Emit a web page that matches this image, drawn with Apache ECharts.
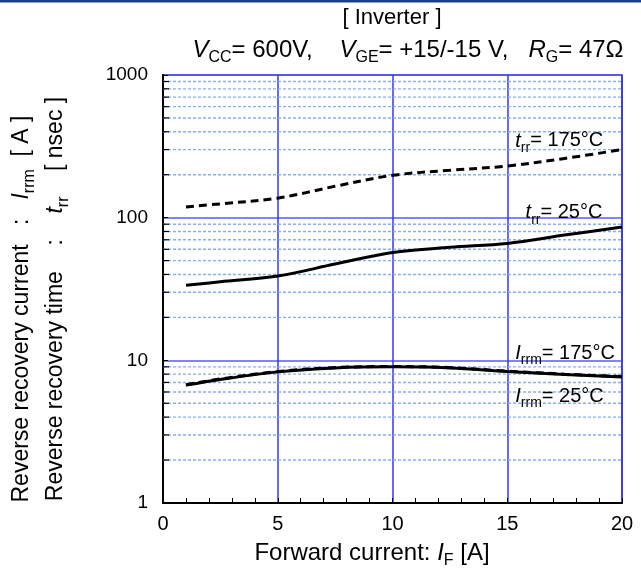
<!DOCTYPE html>
<html>
<head>
<meta charset="utf-8">
<script src="https://cdn.jsdelivr.net/npm/echarts@6/dist/echarts.min.js"></script>
<style>
  html, body { margin: 0; padding: 0; background: #fff; }
  #chart { width: 641px; height: 574px; }
</style>
</head>
<body>
<div id="chart"></div>
<script>
// Forward current sample points [A]
const forwardCurrent = [1, 2.5, 5, 7.5, 10, 12.5, 15, 17.5, 20];
// Reverse recovery time t_rr [nsec]
const trr175 = [119, 125, 137, 166, 198, 215, 230, 260, 300];
const trr25 = [33.6, 35.5, 39, 47.3, 57, 62, 66, 75.5, 86];
// Reverse recovery current I_rrm [A]
const irrm175 = [6.75, 7.4, 8.35, 8.9, 9.05, 8.9, 8.4, 8.0, 7.7];
const irrm25 = [6.7, 7.35, 8.3, 8.85, 9.0, 8.85, 8.35, 7.95, 7.65];
// Axis ticks
const xTicks = [0, 5, 10, 15, 20];
const yTicks = [1, 10, 100, 1000];
const yMinor = [2, 3, 4, 5, 6, 7, 8, 9, 20, 30, 40, 50, 60, 70, 80, 90, 200, 300, 400, 500, 600, 700, 800, 900];

const FONT = '"Liberation Sans", Arial, sans-serif';
const pair = (xs, ys) => xs.map((x, i) => [x, ys[i]]);

const chart = echarts.init(document.getElementById('chart'), null, { renderer: 'canvas' });

const curveStyle = (dashed) => ({
  type: 'line',
  smooth: 0.35,
  symbol: 'none',
  silent: true,
  lineStyle: { color: '#000', width: 3, type: dashed ? [8, 5] : 'solid' },
  z: 5
});

const option = {
  animation: false,
  backgroundColor: '#fff',
  grid: {
    left: 163, right: 19, top: 75, bottom: 71,
    show: true, borderColor: '#2a2a70', borderWidth: 1.5, backgroundColor: 'transparent'
  },
  xAxis: {
    type: 'value', min: xTicks[0], max: xTicks[xTicks.length - 1], interval: 5,
    axisLine: { show: true, onZero: false, lineStyle: { color: '#000', width: 2 } },
    axisTick: { show: true, inside: true, length: 5, lineStyle: { color: '#000', width: 1 } },
    minorTick: { show: true, splitNumber: 5, length: 5, lineStyle: { color: '#000', width: 1 } },
    splitLine: { show: true, lineStyle: { color: '#3535ff', width: 1.5 } },
    axisLabel: { color: '#000', fontSize: 20, fontFamily: FONT, margin: 11 }
  },
  yAxis: {
    type: 'log', logBase: 10, min: yTicks[0], max: yTicks[yTicks.length - 1],
    axisLine: { show: true, onZero: false, lineStyle: { color: '#000', width: 2 } },
    axisTick: { show: true, inside: true, length: 5, lineStyle: { color: '#000', width: 1 } },
    splitLine: { show: true, lineStyle: { color: '#5a5aff', width: 1.5 } },
    axisLabel: {
      color: '#000', fontSize: 19, fontFamily: FONT, margin: 15,
      formatter: v => String(Math.round(v))
    }
  },
  series: [
    // Minor log grid lines and inward ticks
    {
      type: 'custom',
      silent: true,
      z: 1,
      data: yMinor.map(v => [v]),
      renderItem: function (params, api) {
        const y = api.coord([0, api.value(0)])[1];
        const cs = params.coordSys;
        return {
          type: 'group',
          children: [
            {
              type: 'line',
              shape: { x1: cs.x, y1: y, x2: cs.x + cs.width, y2: y },
              style: { stroke: '#86aef2', lineWidth: 1.4, lineDash: [3, 2] }
            },
            {
              type: 'line',
              shape: { x1: cs.x, y1: y, x2: cs.x + 6, y2: y },
              style: { stroke: '#000', lineWidth: 1.2 }
            }
          ]
        };
      },
      encode: { y: 0 }
    },
    Object.assign({ name: 'trr175', data: pair(forwardCurrent, trr175) }, curveStyle(true)),
    Object.assign({ name: 'trr25', data: pair(forwardCurrent, trr25) }, curveStyle(false)),
    Object.assign({ name: 'irrm175', data: pair(forwardCurrent, irrm175) }, curveStyle(true)),
    Object.assign({ name: 'irrm25', data: pair(forwardCurrent, irrm25) }, curveStyle(false))
  ]
};
chart.setOption(option);

// Rich-text styles for italic symbols with subscripts
const makeRich = (size, subSize, lh) => ({
  it: { fontSize: size, fontFamily: FONT, fontStyle: 'italic', lineHeight: lh, color: '#000' },
  n: { fontSize: size, fontFamily: FONT, lineHeight: lh, color: '#000' },
  sub: { fontSize: subSize, fontFamily: FONT, lineHeight: subSize, verticalAlign: 'bottom', color: '#000' }
});
const richHead = makeRich(24, 16, 32);
const richXName = makeRich(24, 16, 32);
const richYName = makeRich(23, 16, 31);
const richLabel = makeRich(20, 14, 28);

// Curve annotations anchored in data coordinates
const curveLabels = [
  { at: [15.35, 345], text: '{it|t}{sub|rr}{n|= 175°C}' },
  { at: [15.8, 108], text: '{it|t}{sub|rr}{n|= 25°C}' },
  { at: [15.35, 11.2], text: '{it|I}{sub|rrm}{n|= 175°C}' },
  { at: [15.35, 5.6], text: '{it|I}{sub|rrm}{n|= 25°C}' }
];

const graphics = curveLabels.map(l => {
  const p = chart.convertToPixel({ gridIndex: 0 }, l.at);
  return {
    type: 'text', x: p[0], y: p[1], z: 10,
    style: { text: l.text, rich: richLabel, align: 'left', verticalAlign: 'middle' }
  };
});

graphics.push(
  { type: 'rect', shape: { x: 0, y: 0, width: 641, height: 2.5 }, style: { fill: '#1c3c8c' } },
  {
    type: 'text', x: 392, y: 18,
    style: { text: '[ Inverter ]', font: '22px ' + FONT, fill: '#000', align: 'center', verticalAlign: 'middle' }
  },
  {
    type: 'text', x: 408, y: 50,
    style: {
      text: '{it|V}{sub|CC}{n|= 600V,    }{it|V}{sub|GE}{n|= +15/-15 V,   }{it|R}{sub|G}{n|= 47Ω}',
      rich: richHead, align: 'center', verticalAlign: 'middle'
    }
  },
  {
    type: 'text', x: 372, y: 553,
    style: {
      text: '{n|Forward current: }{it|I}{sub|F}{n| [A]}',
      rich: richXName, align: 'center', verticalAlign: 'middle'
    }
  },
  {
    type: 'text', x: 22, y: 309, rotation: Math.PI / 2,
    style: {
      text: '{n|Reverse recovery current   :   }{it|I}{sub|rrm}{n|  [ A ]}',
      rich: richYName, align: 'center', verticalAlign: 'middle'
    }
  },
  {
    type: 'text', x: 56, y: 299, rotation: Math.PI / 2,
    style: {
      text: '{n|Reverse recovery time    :    }{it|t}{sub|rr}{n|    [ nsec ]}',
      rich: richYName, align: 'center', verticalAlign: 'middle'
    }
  }
);

chart.setOption({ graphic: graphics });
</script>
</body>
</html>
